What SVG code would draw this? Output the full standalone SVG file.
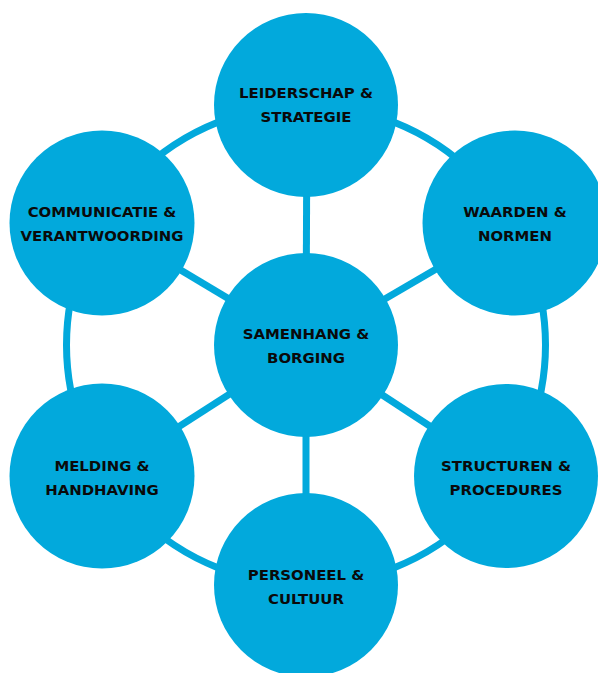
<svg xmlns="http://www.w3.org/2000/svg" width="598" height="673" viewBox="0 0 598 673">
<style>
.n{fill:#02A9DC}
.c{fill:none;stroke:#02A9DC;stroke-width:7}
text{font-family:"DejaVu Sans","Liberation Sans",sans-serif;font-weight:bold;font-size:14.9px;fill:#0a0a0a;text-anchor:middle}
</style>
<rect width="598" height="673" fill="#fff"/>
<g id="connectors">
<circle class="c" cx="306" cy="345" r="239.5"/>
<line class="c" x1="306" y1="345" x2="307" y2="105"/>
<line class="c" x1="306" y1="345" x2="102" y2="223"/>
<line class="c" x1="306" y1="345" x2="515" y2="223"/>
<line class="c" x1="306" y1="345" x2="102" y2="476"/>
<line class="c" x1="306" y1="345" x2="506" y2="476"/>
<line class="c" x1="306" y1="345" x2="306" y2="585"/>
</g>
<g id="leiderschap"><circle class="n" cx="306" cy="105" r="92"/><text x="306" y="98">LEIDERSCHAP &amp;</text><text x="306" y="122">STRATEGIE</text></g>
<g id="communicatie"><circle class="n" cx="102" cy="223" r="92.5"/><text x="102" y="217">COMMUNICATIE &amp;</text><text x="102" y="241">VERANTWOORDING</text></g>
<g id="waarden"><circle class="n" cx="515" cy="223" r="92.5"/><text x="515" y="217">WAARDEN &amp;</text><text x="515" y="241">NORMEN</text></g>
<g id="samenhang"><circle class="n" cx="306" cy="345" r="92"/><text x="306" y="339">SAMENHANG &amp;</text><text x="306" y="363">BORGING</text></g>
<g id="melding"><circle class="n" cx="102" cy="476" r="92.5"/><text x="102" y="471">MELDING &amp;</text><text x="102" y="495">HANDHAVING</text></g>
<g id="structuren"><circle class="n" cx="506" cy="476" r="92"/><text x="506" y="471">STRUCTUREN &amp;</text><text x="506" y="495">PROCEDURES</text></g>
<g id="personeel"><circle class="n" cx="306" cy="585" r="92"/><text x="306" y="580">PERSONEEL &amp;</text><text x="306" y="604">CULTUUR</text></g>
</svg>
